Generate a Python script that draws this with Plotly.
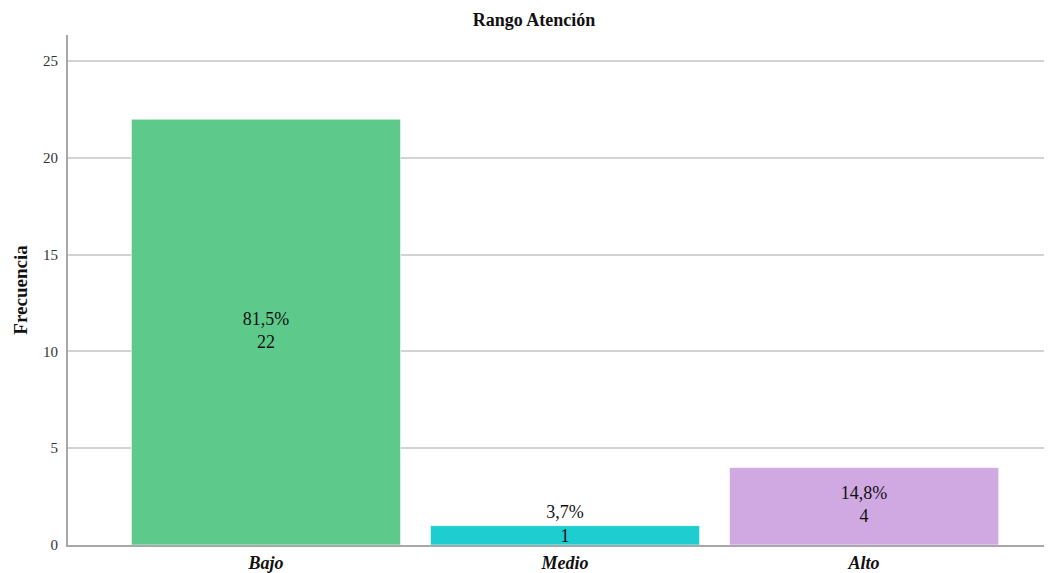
import plotly.graph_objects as go

categorias = ["Bajo", "Medio", "Alto"]
frecuencia = [22, 1, 4]
porcentaje = ["81,5%", "3,7%", "14,8%"]
colores = ["#5DC98A", "#1DCDCF", "#D0A9E2"]

serif = "Liberation Serif, Times New Roman, serif"

etiquetas = [f"{p}<br>{f}" for p, f in zip(porcentaje, frecuencia)]
# barras muy bajas: el texto se centra en el borde superior
pos_etiqueta = [f / 2 if f >= 2 else f for f in frecuencia]

fig = go.Figure()
fig.add_trace(go.Bar(
    x=categorias,
    y=frecuencia,
    width=0.9,
    marker=dict(color=colores, line=dict(color="rgba(255,255,255,0.6)", width=1)),
    hoverinfo="x+y",
))
fig.add_trace(go.Scatter(
    x=categorias,
    y=pos_etiqueta,
    mode="text",
    text=etiquetas,
    textposition="middle center",
    textfont=dict(family=serif, size=18, color="#111111"),
    hoverinfo="skip",
))

# la página añade 8px de margen al body, se compensa en los márgenes
fig.update_layout(
    width=1052,
    height=573,
    showlegend=False,
    plot_bgcolor="white",
    paper_bgcolor="white",
    margin=dict(l=60, r=0, t=27, b=36, autoexpand=False),
    title=dict(text="<b>Rango Atención</b>", x=0.5, xanchor="center", y=0.979, yanchor="middle",
               font=dict(family=serif, size=18, color="#111111")),
    font=dict(family=serif, color="#333333"),
)
fig.update_xaxes(
    range=[-0.662, 2.655],
    showgrid=False,
    showline=True,
    linecolor="#A8A8A8",
    linewidth=2,
    ticks="",
    automargin=False,
    tickfont=dict(family=serif, size=18, color="#111111", style="italic", weight="bold"),
)
fig.update_yaxes(
    range=[0, 26.35],
    tickvals=[0, 5, 10, 15, 20, 25],
    showgrid=True,
    gridcolor="#D3D3D3",
    gridwidth=1.5,
    showline=True,
    linecolor="#A8A8A8",
    linewidth=2,
    ticks="",
    automargin=False,
    ticklabelstandoff=5,
    tickfont=dict(family=serif, size=15, color="#333333"),
    title=dict(text="<b>Frecuencia</b>", standoff=10,
               font=dict(family=serif, size=19, color="#111111")),
    zeroline=False,
)

fig.write_html("out.html")
